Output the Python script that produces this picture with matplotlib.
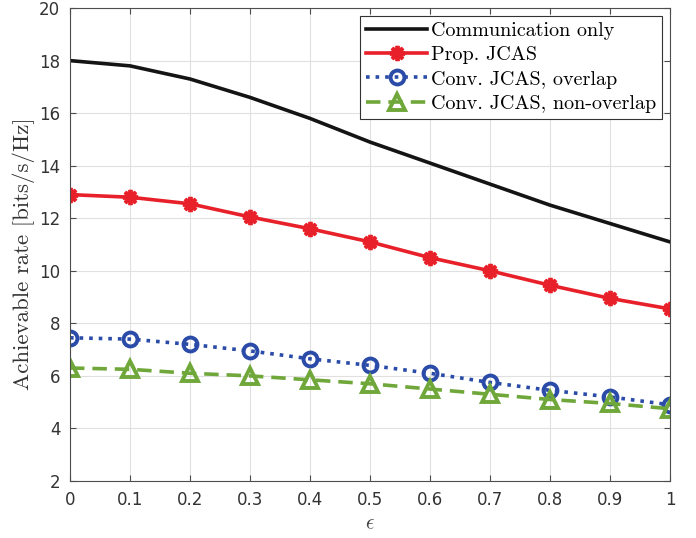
import matplotlib
matplotlib.use("Agg")
import matplotlib.pyplot as plt
import numpy as np

eps = [0, 0.1, 0.2, 0.3, 0.4, 0.5, 0.6, 0.7, 0.8, 0.9, 1.0]
comm_only = [18.0, 17.8, 17.3, 16.6, 15.8, 14.9, 14.1, 13.3, 12.5, 11.8, 11.1]
prop_jcas = [12.9, 12.8, 12.55, 12.05, 11.6, 11.1, 10.5, 10.0, 9.45, 8.95, 8.55]
conv_overlap = [7.45, 7.4, 7.2, 6.95, 6.65, 6.4, 6.1, 5.75, 5.45, 5.2, 4.9]
conv_nonoverlap = [6.3, 6.25, 6.1, 6.0, 5.85, 5.7, 5.5, 5.3, 5.1, 4.95, 4.75]

xticks = [0, 0.1, 0.2, 0.3, 0.4, 0.5, 0.6, 0.7, 0.8, 0.9, 1]
xticklabels = ["0", "0.1", "0.2", "0.3", "0.4", "0.5", "0.6", "0.7", "0.8", "0.9", "1"]
yticks = [2, 4, 6, 8, 10, 12, 14, 16, 18, 20]

plt.rcParams["mathtext.fontset"] = "cm"

fig = plt.figure(figsize=(6.96, 5.38), dpi=100)
ax = fig.add_axes([0.1006, 0.106, 0.862, 0.879])

ax.plot(eps, comm_only, color="#141414", lw=2.6, ls="-", label="Communication only")
ax.plot(eps, prop_jcas, color="#E8202A", lw=2.6, ls="-", marker=(8, 2, 0), markersize=11,
        markeredgewidth=2.8, label="Prop. JCAS")
ax.plot(eps, conv_overlap, color="#2A4BA8", lw=2.6, ls=":", marker="o", markersize=10,
        markerfacecolor="none", markeredgewidth=2.8, label="Conv. JCAS, overlap")
ax.plot(eps, conv_nonoverlap, color="#70A73A", lw=2.6, ls=(0, (4, 2.2)), marker="^", markersize=11,
        markerfacecolor="none", markeredgewidth=2.8, label="Conv. JCAS, non-overlap")

ax.set_xlim(0, 1)
ax.set_ylim(2, 20)
ax.set_xticks(xticks)
ax.set_xticklabels(xticklabels)
ax.set_yticks(yticks)
ax.grid(True, color="#E0E0E0", lw=0.8)
ax.set_axisbelow(True)
ax.tick_params(direction="in", top=True, right=True, length=4, width=0.8,
               colors="#4D4D4D", labelsize=12, labelcolor="#333333", pad=7)
for s in ax.spines.values():
    s.set_color("#4D4D4D")
    s.set_linewidth(0.8)

ax.set_xlabel(r"$\epsilon$", fontsize=15, color="#404040", labelpad=3)
ax.set_ylabel("Achievable rate [bits/s/Hz]", fontsize=16.5, family="cmr10", color="#333333")
ax.yaxis.set_label_coords(-0.058, 0.48)

leg = ax.legend(loc="upper right", prop={"family": "cmr10", "size": 14.5}, handlelength=3.0,
                handletextpad=0.2, borderpad=0.3, labelspacing=0.3, fancybox=False,
                edgecolor="#333333", framealpha=1, borderaxespad=0.4)
leg.get_frame().set_linewidth(0.8)

fig.savefig("out.png", dpi=100)
